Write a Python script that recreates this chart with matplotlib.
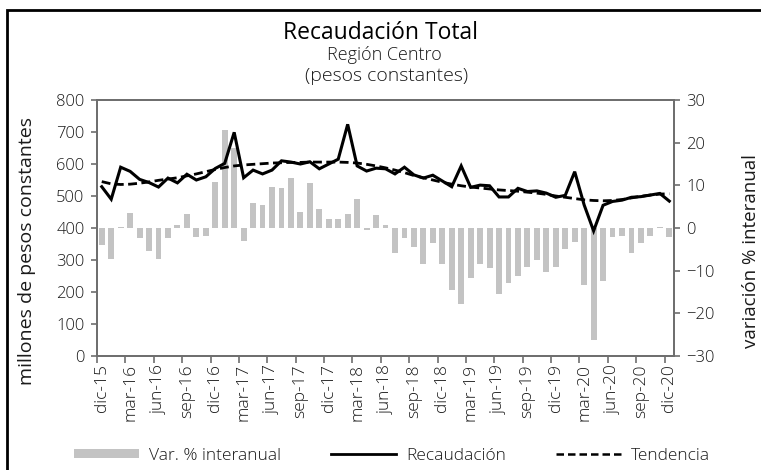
import matplotlib
matplotlib.use("Agg")
import matplotlib.pyplot as plt
from matplotlib import font_manager as fm
from matplotlib.patches import Patch, Rectangle
from matplotlib.lines import Line2D
from matplotlib.ticker import FixedLocator, NullFormatter


def _weight(f):
    w = f.weight
    if isinstance(w, str):
        w = fm.weight_dict.get(w, 400)
    return w


# pick a light sans face if one is installed
base_family = "Open Sans"
light_weight = 400
for fam in ["Open Sans", "Inter", "Lato", "Roboto", "Noto Sans"]:
    found = [f for f in fm.fontManager.ttflist
             if f.name == fam and f.style == "normal" and _weight(f) <= 300]
    if found:
        base_family = fam
        light_weight = max(_weight(f) for f in found)
        break

plt.rcParams['font.family'] = [base_family, 'DejaVu Sans']
plt.rcParams['font.weight'] = light_weight

# Monthly series, dic-15 .. dic-20
tick_labels = ["dic-15", "mar-16", "jun-16", "sep-16", "dic-16", "mar-17", "jun-17",
               "sep-17", "dic-17", "mar-18", "jun-18", "sep-18", "dic-18", "mar-19",
               "jun-19", "sep-19", "dic-19", "mar-20", "jun-20", "sep-20", "dic-20"]

recaudacion = [529, 490, 590, 577, 552, 542, 528, 556, 541, 568,
               550, 560, 586, 602, 699, 557, 581, 569, 581, 610,
               606, 600, 607, 585, 600, 615, 724, 594, 578, 587,
               585, 569, 590, 566, 556, 565, 547, 529, 594, 527,
               534, 532, 497, 497, 524, 514, 516, 509, 496, 502,
               576, 472, 391, 471, 483, 487, 496, 498, 503, 508,
               484]

tendencia = [545, 538, 536, 537, 540, 544, 549, 553, 557, 563,
             569, 576, 583, 589, 594, 597, 599, 601, 603, 604,
             605, 605, 606, 606, 606, 606, 605, 603, 599, 594,
             588, 581, 573, 564, 557, 550, 543, 537, 532, 528,
             525, 522, 519, 517, 515, 512, 509, 505, 500, 496,
             492, 488, 486, 485, 486, 489, 494, 499, 503, 506,
             507]

var_interanual = [-3.9, -7.3, 0.3, 3.6, -2.4, -5.5, -7.3, -2.4, 0.8, 3.3,
                  -2.1, -1.9, 10.7, 23.0, 18.7, -3.0, 5.9, 5.4, 9.6, 9.3,
                  11.8, 3.8, 10.5, 4.5, 2.1, 2.1, 3.3, 6.9, -0.5, 3.0,
                  0.8, -5.9, -2.4, -4.5, -8.4, -3.6, -8.4, -14.5, -17.7, -11.8,
                  -8.4, -9.3, -15.4, -12.8, -11.2, -9.1, -7.4, -10.3, -9.1, -4.9,
                  -3.3, -13.3, -26.2, -12.4, -2.1, -1.9, -5.8, -3.6, -1.9, 0.3,
                  -2.1]

n = len(recaudacion)
x = list(range(n))

fig = plt.figure(figsize=(7.61, 4.70), dpi=100)
ax = fig.add_axes([0.1275, 0.2426, 0.7582, 0.5446])
ax2 = ax.twinx()

bar_color = "#c3c3c3"
axis_color = "#6e6e6e"
text_color = "#1a1a1a"

ax2.bar(x, var_interanual, width=0.62, color=bar_color, zorder=1)
ax.plot(x, recaudacion, color="black", lw=2.2, zorder=3, solid_joinstyle="miter")
ax.plot(x, tendencia, color="black", lw=2.0, ls=(0, (3.2, 1.6)), zorder=4)

ax.set_zorder(ax2.get_zorder() + 1)
ax.patch.set_visible(False)

ax.set_xlim(-0.5, n - 0.5)
ax.set_ylim(0, 800)
ax2.set_ylim(-30, 30)
ax.set_yticks(range(0, 801, 100))
ax2.set_yticks(range(-30, 31, 10))

# category axis: boundaries marked, labels centred on every third month
ax.xaxis.set_major_locator(FixedLocator([i - 0.5 for i in range(0, n + 1, 3)]))
ax.xaxis.set_major_formatter(NullFormatter())
ax.xaxis.set_minor_locator(FixedLocator(list(range(0, n, 3))))
ax.set_xticklabels(tick_labels, minor=True, rotation=90, fontsize=12.5, color=text_color)
ax.tick_params(axis="x", which="minor", length=0, pad=6)
ax.tick_params(axis="x", which="major", length=5, width=1.2, color=axis_color, direction="out")

ax.tick_params(axis="y", length=4, width=1.2, color=axis_color, labelsize=12,
               pad=5, labelcolor=text_color)
ax2.tick_params(axis="y", length=4, width=1.2, color=axis_color, labelsize=12,
                pad=5, labelcolor=text_color)

for a in (ax, ax2):
    for s in a.spines.values():
        s.set_color(axis_color)
        s.set_linewidth(1.3)

ax.set_ylabel("millones de pesos constantes", fontsize=14, color=text_color)
ax.yaxis.set_label_coords(-0.105, 0.41)
ax2.set_ylabel("variación % interanual", fontsize=13.5, color=text_color)
ax2.yaxis.set_label_coords(1.117, 0.41)

fig.text(0.5, 0.930, "Recaudación Total", ha="center", va="center", fontsize=16.5,
         fontweight="normal", color="black")
fig.text(0.505, 0.884, "Región Centro", ha="center", va="center", fontsize=13, color=text_color)
fig.text(0.508, 0.838, "(pesos constantes)", ha="center", va="center", fontsize=14, color=text_color)

handles = [Patch(facecolor=bar_color, edgecolor="none"),
           Line2D([], [], color="black", lw=2.0),
           Line2D([], [], color="black", lw=1.8, ls=(0, (3.0, 1.6)))]
labels = ["Var. % interanual", "Recaudación", "Tendencia"]
fig.legend(handles, labels, loc="center", bbox_to_anchor=(0.515, 0.03), ncol=3,
           frameon=False, fontsize=12.5, handlelength=3.75, handleheight=0.45,
           columnspacing=2.9, handletextpad=0.57, labelcolor=text_color)

# outer frame (its right and bottom sides fall outside the canvas)
fig.patches.append(Rectangle((0.0092, -0.05), 1.1, 1.0287, transform=fig.transFigure,
                             fill=False, edgecolor="black", lw=2.0))

fig.savefig("out.png", dpi=100)
